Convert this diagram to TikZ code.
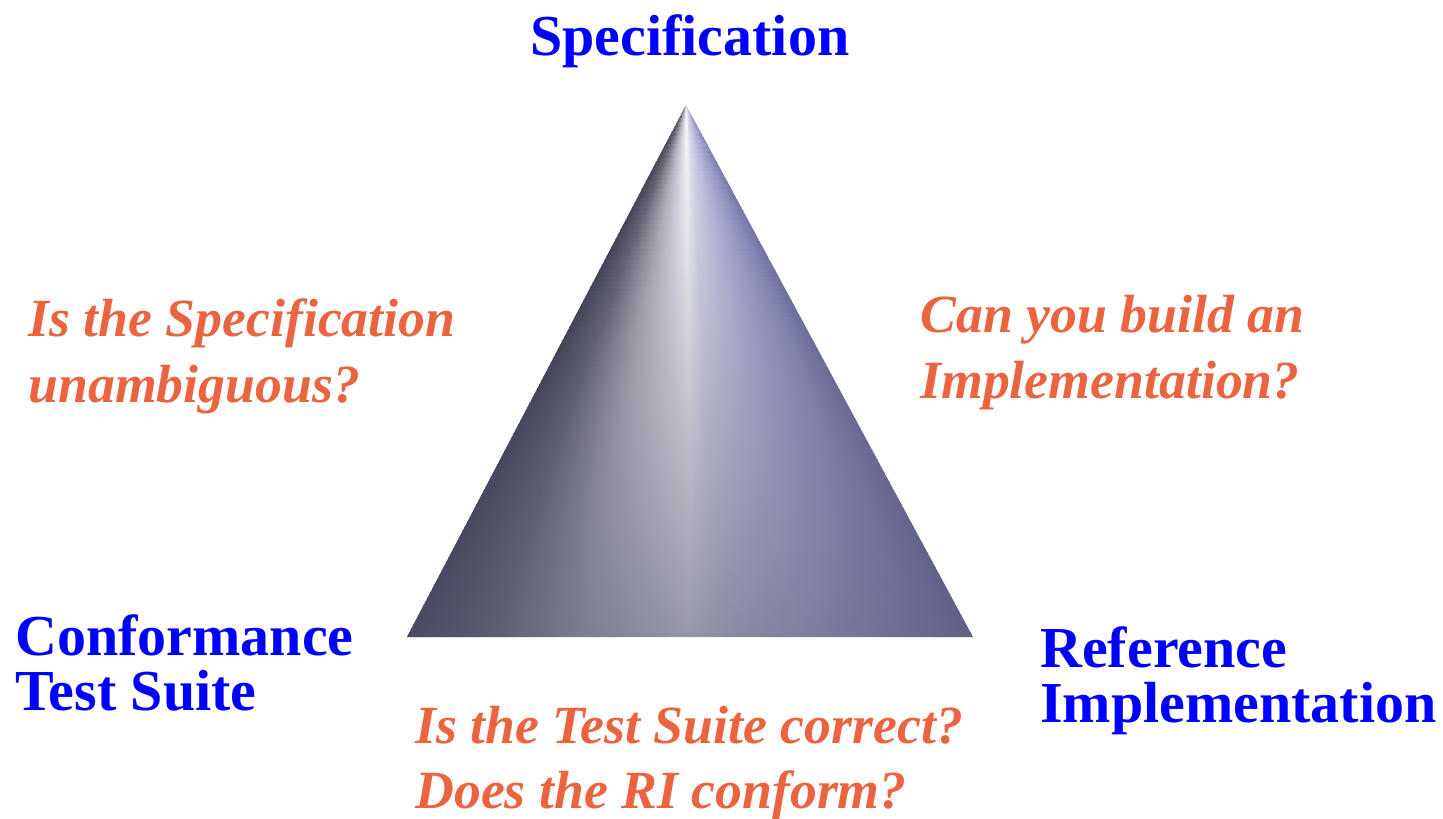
\documentclass[tikz,border=0pt]{standalone}
\usepackage{fontspec}
\setmainfont{Liberation Serif}
\usetikzlibrary{fadings}
\definecolor{specblue}{RGB}{0,0,255}
\definecolor{askorange}{RGB}{234,100,64}
\definecolor{metalA}{RGB}{62,62,80}
\definecolor{metalB}{RGB}{104,104,118}
\definecolor{metalC}{RGB}{184,184,192}
\definecolor{metalD}{RGB}{234,234,240}
\definecolor{metalE}{RGB}{226,226,244}
\definecolor{metalF}{RGB}{184,184,222}
\definecolor{metalG}{RGB}{146,146,196}
\definecolor{metalH}{RGB}{116,116,164}
\definecolor{metalShadow}{RGB}{82,82,112}
\pgfdeclarehorizontalshading{metal}{100bp}{color(0bp)=(metalA); color(25bp)=(metalA);
  color(32bp)=(metalB); color(40bp)=(metalC); color(47bp)=(metalD); color(50bp)=(white);
  color(53bp)=(metalE); color(62bp)=(metalF); color(70bp)=(metalG); color(75bp)=(metalH);
  color(100bp)=(metalH)}
\tikzfading[name=fade bottom, top color=transparent!100, middle color=transparent!85, bottom color=transparent!40]
\tikzset{
  corner/.style={anchor=base west, inner sep=0pt, align=left, text=specblue,
    font=\fontsize{33}{31}\selectfont\bfseries},
  question/.style={anchor=base west, inner sep=0pt, align=left, text=askorange,
    font=\fontsize{30.6}{37}\selectfont\bfseries\itshape}
}

\begin{document}
\begin{tikzpicture}[x=0.02cm,y=-0.02cm]
                \useasboundingbox (0,0) rectangle (1443,818);
                \coordinate (apex) at (686,105);
                \coordinate (baseL) at (407,637);
                \coordinate (baseR) at (973,637);
                \begin{scope}
                \clip (apex) -- (baseL) -- (baseR) -- cycle;
                \foreach \i in {0,...,119} {
                  \pgfmathsetmacro{\ya}{105+\i/120*532}
                  \pgfmathsetmacro{\yb}{105+(\i+1)/120*532+1}
                  \pgfmathsetmacro{\xl}{686-(\yb-105)/532*279}
                  \pgfmathsetmacro{\xr}{686+(\yb-105)/532*287}
                  \shade[shading=metal] (\xl,\ya) rectangle (\xr,\yb);
                }
                \end{scope}
                \fill[metalShadow,path fading=fade bottom] (apex) -- (baseL) -- (baseR) -- cycle;
                \node[corner] (spec) at (530,55) {Specification};
                \node[corner] (cts) at (15,710) {Conformance\\Test Suite};
                \node[corner] (ri) at (1040,722) {Reference\\Implementation};
                \node[question] (unamb) at (28,402) {Is the Specification\\unambiguous?};
                \node[question] (build) at (920,398) {Can you build an\\Implementation?};
                \node[question] (conform) at (415,808) {Is the Test Suite correct?\\Does the RI conform?};
        \end{tikzpicture}
\end{document}
